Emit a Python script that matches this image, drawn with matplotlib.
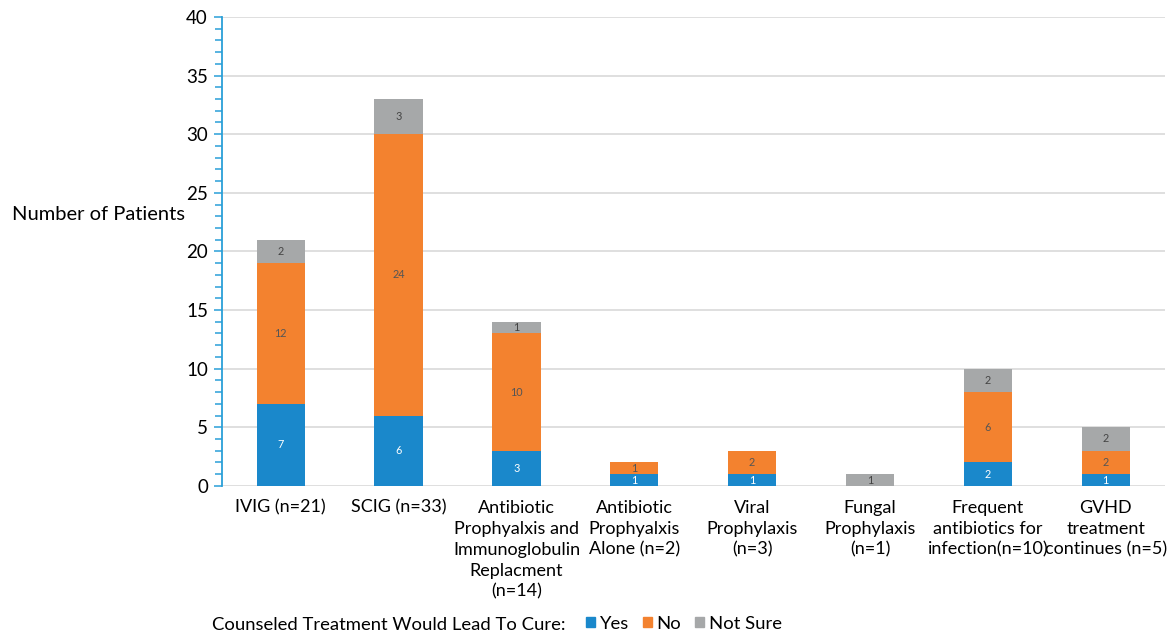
import numpy as np
import matplotlib.pyplot as plt
from matplotlib.patches import Patch
from matplotlib.ticker import MultipleLocator

plt.rcParams['font.family'] = ['Lato', 'DejaVu Sans']

# ---- data ----
categories = ['IVIG (n=21)', 'SCIG (n=33)',
              'Antibiotic\nProphyalxis and\nImmunoglobulin\nReplacment\n(n=14)',
              'Antibiotic\nProphyalxis\nAlone (n=2)',
              'Viral\nProphylaxis\n(n=3)',
              'Fungal\nProphylaxis\n(n=1)',
              'Frequent\nantibiotics for\ninfection(n=10)',
              'GVHD\ntreatment\ncontinues (n=5)']
yes = [7, 6, 3, 1, 1, 0, 2, 1]
no = [12, 24, 10, 1, 2, 0, 6, 2]
not_sure = [2, 3, 1, 0, 0, 1, 2, 2]

series = [
    ('Yes', yes, '#1a88cb', 'white'),
    ('No', no, '#f3822f', '#555555'),
    ('Not Sure', not_sure, '#a6a8a9', '#444444'),
]

fig = plt.figure(figsize=(11.74, 6.41), dpi=100)
ax = fig.add_axes([0.189, 0.242, 0.803, 0.7315])

x = np.arange(len(categories))
bottom = np.zeros(len(categories))
for name, vals, col, tcol in series:
    vals = np.array(vals, dtype=float)
    ax.bar(x, vals, 0.41, bottom=bottom, color=col, zorder=3)
    for xi, b, v in zip(x, bottom, vals):
        if v > 0:
            ax.text(xi, b + v / 2, '%d' % v, ha='center', va='center',
                    fontsize=7.8, color=tcol, zorder=4)
    bottom += vals

ax.set_xlim(-0.5, len(categories) - 0.5)
ax.set_ylim(0, 40)
ax.yaxis.set_major_locator(MultipleLocator(5))
ax.yaxis.set_minor_locator(MultipleLocator(1))
ax.grid(axis='y', color='#d9d9d9', linewidth=1.2, zorder=0)

for s in ['top', 'right', 'bottom']:
    ax.spines[s].set_visible(False)
ax.spines['left'].set_color('#2a9fd8')
ax.spines['left'].set_linewidth(1.3)
ax.tick_params(axis='y', which='both', direction='out', color='#2a9fd8',
               width=1.1, labelsize=13.5, pad=4)
ax.tick_params(axis='y', which='major', length=6)
ax.tick_params(axis='y', which='minor', length=5)
ax.tick_params(axis='x', length=0, labelsize=13, pad=10)
ax.set_xticks(x)
ax.set_xticklabels(categories, linespacing=1.38, va='top')

fig.text(0.010, 0.665, 'Number of Patients', fontsize=14.5, va='center', ha='left')

# legend along the bottom
fig.text(0.181, 0.025, 'Counseled Treatment Would Lead To Cure:', fontsize=13.3,
         va='center', ha='left')
handles = [Patch(color=col, label=name) for name, _, col, _ in series]
fig.legend(handles=handles, ncol=3, loc='center left', bbox_to_anchor=(0.499, 0.027),
           frameon=False, fontsize=13.3, handlelength=0.5, handleheight=0.5,
           handletextpad=0.25, columnspacing=0.75, borderaxespad=0, borderpad=0)

fig.savefig('out.png', dpi=100)
